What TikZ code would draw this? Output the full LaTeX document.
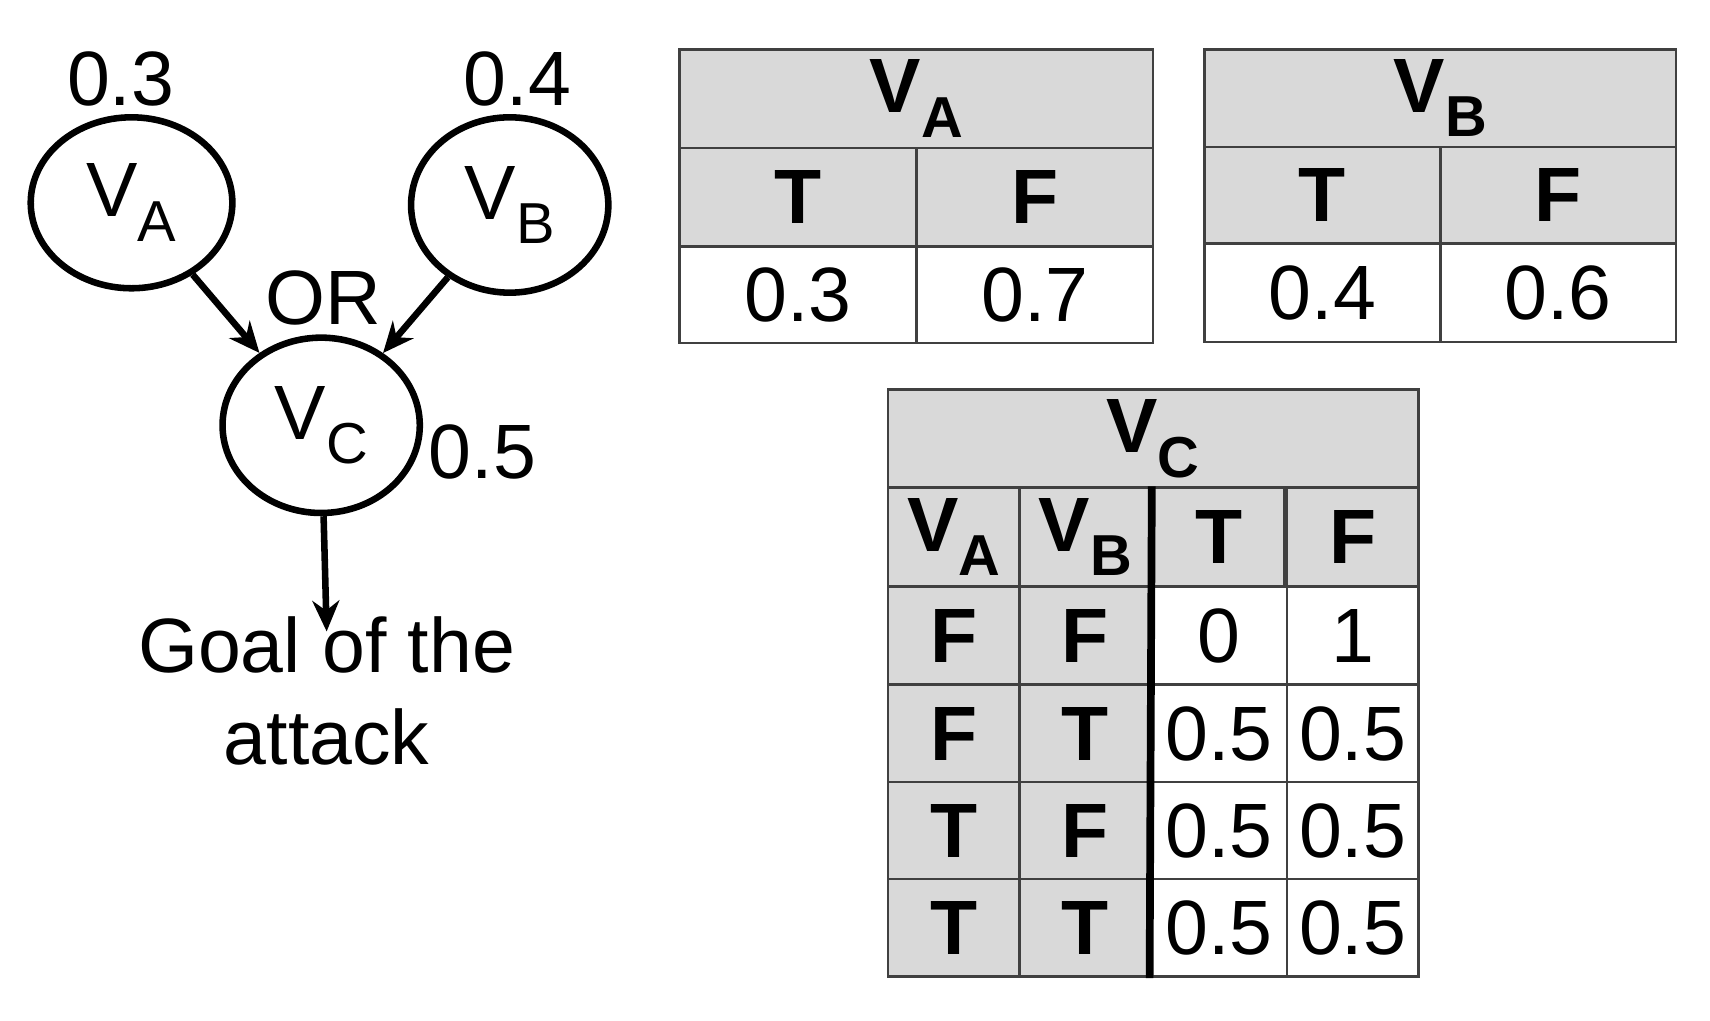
\documentclass[tikz,border=0pt]{standalone}
\usepackage{fontspec}
\setmainfont{Liberation Sans}
\usetikzlibrary{shapes.geometric,arrows.meta}
\newcommand\sub[1]{\raisebox{-0.32em}{\fontsize{30}{30}\selectfont #1}}
\begin{document}
\begin{tikzpicture}[x=0.02cm,y=-0.02cm,>=stealth,
	font=\fontsize{40}{48}\selectfont,
	var/.style={draw, ellipse, line width=3.4pt, inner sep=0pt},
	arr/.style={->, line width=3.4pt, >={Stealth[length=16pt,width=14pt]}},
	hcell/.style={draw=black!75, line width=1.4pt, fill=black!15, inner sep=0pt, font=\fontsize{40}{48}\selectfont\bfseries},
	vcell/.style={draw=black!75, line width=1.4pt, fill=white, inner sep=0pt}]
	\useasboundingbox (0,0) rectangle (1560,931);

	% the network
	\node[var, minimum width=3.68cm, minimum height=3.12cm] (VA) at (120,185) {V\sub{A}};
	\node[var, minimum width=3.6cm, minimum height=3.2cm] (VB) at (465,187) {V\sub{B}};
	\node[var, minimum width=3.6cm, minimum height=3.2cm] (VC) at (293,388) {V\sub{C}};
	\node (pA) at (110,72) {0.3};
	\node (pB) at (472,72) {0.4};
	\node (or) at (295,272) {OR};
	\node (pC) at (440,412) {0.5};
	\node[align=center, anchor=north, inner sep=0pt] (goal) at (298,562) {Goal of the\\attack};
	\draw[arr] (VA) -- (VC);
	\draw[arr] (VB) -- (VC);
	\draw[arr] (VC) -- ([yshift=-8pt]goal.north);

	% table of V_A
	\node[hcell, minimum width=8.64cm, minimum height=1.8cm] (tAh) at (836,90) {V\sub{A}};
	\node[hcell, minimum width=4.32cm, minimum height=1.8cm] (tAt) at (728,180) {T};
	\node[hcell, minimum width=4.32cm, minimum height=1.8cm] (tAf) at (944,180) {F};
	\node[vcell, minimum width=4.32cm, minimum height=1.76cm] (tA1) at (728,269) {0.3};
	\node[vcell, minimum width=4.32cm, minimum height=1.76cm] (tA2) at (944,269) {0.7};

	% table of V_B
	\node[hcell, minimum width=8.6cm, minimum height=1.78cm] (tBh) at (1314,89.5) {V\sub{B}};
	\node[hcell, minimum width=4.3cm, minimum height=1.76cm] (tBt) at (1206.5,178) {T};
	\node[hcell, minimum width=4.3cm, minimum height=1.76cm] (tBf) at (1421.5,178) {F};
	\node[vcell, minimum width=4.3cm, minimum height=1.8cm] (tB1) at (1206.5,267) {0.4};
	\node[vcell, minimum width=4.3cm, minimum height=1.8cm] (tB2) at (1421.5,267) {0.6};

	% table of V_C
	\node[hcell, minimum width=9.68cm, minimum height=1.8cm] (tCh) at (1052,400) {V\sub{C}};
	\foreach \x/\t [count=\i] in {870/V\sub{A},990/V\sub{B},1112/T,1234/F}
		\node[hcell, minimum width=2.4cm, minimum height=1.8cm] (tCc\i) at (\x,490) {\t};
	\foreach \y/\a/\b/\t/\f [count=\j] in {580/F/F/0/1, 669.5/F/T/0.5/0.5, 758/T/F/0.5/0.5, 846.5/T/T/0.5/0.5} {
		\node[hcell, minimum width=2.4cm, minimum height=1.78cm] (tCa\j) at (870,\y) {\a};
		\node[hcell, minimum width=2.4cm, minimum height=1.78cm] (tCb\j) at (990,\y) {\b};
		\node[vcell, minimum width=2.48cm, minimum height=1.78cm] (tCt\j) at (1112,\y) {\t};
		\node[vcell, minimum width=2.4cm, minimum height=1.78cm] (tCf\j) at (1234,\y) {\f};
	}
	\draw[line width=4pt] (tCc3.north west) -- (tCt4.south west);
\end{tikzpicture}
\end{document}
